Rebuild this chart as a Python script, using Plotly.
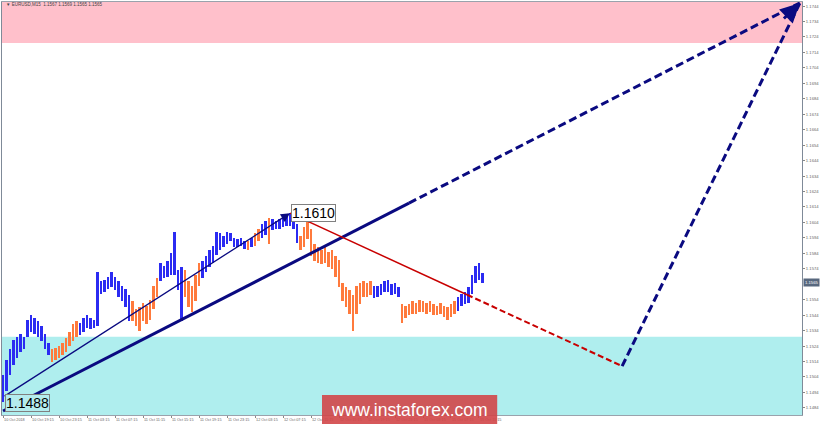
import numpy as np
import plotly.graph_objects as go

# ---------------- data ----------------
# 30-minute bar index (each tick label step = 8 bars = 4 hours)
bar_highs = [
    1.1505, 1.1515, 1.1522, 1.1528, 1.1530, 1.1532, 1.1530, 1.1541, 1.1544, 1.1542,
    1.1540, 1.1537, 1.1532, 1.1526, 1.1522, 1.1523, 1.1524, 1.1526, 1.1529, 1.1533,
    1.1538, 1.1540, 1.1539, 1.1542, 1.1544, 1.1542, 1.1541, 1.1572, 1.1566, 1.1567,
    1.1569, 1.1572, 1.1569, 1.1566, 1.1563, 1.1561, 1.1557, 1.1553, 1.1548, 1.1549,
    1.1552, 1.1550, 1.1554, 1.1563, 1.1568, 1.1578, 1.1576, 1.1579, 1.1584, 1.1598,
    1.1573, 1.1575, 1.1573, 1.1566, 1.1563, 1.1570, 1.1578, 1.1579, 1.1582, 1.1586,
    1.1589, 1.1598, 1.1597, 1.1595, 1.1598, 1.1597, 1.1594, 1.1593, 1.1594, 1.1592,
    1.1592, 1.1594, 1.1597, 1.1600, 1.1603, 1.1605, 1.1607, 1.1606, 1.1605, 1.1606,
    1.1607, 1.1608, 1.1610, 1.1609, 1.1603, 1.1595, 1.1601, 1.1605, 1.1600, 1.1590,
    1.1588, 1.1586, 1.1588, 1.1585, 1.1586, 1.1582, 1.1580, 1.1565, 1.1562, 1.1560,
    1.1557, 1.1563, 1.1565, 1.1566, 1.1565, 1.1566, 1.1563, 1.1563, 1.1564, 1.1566,
    1.1567, 1.1564, 1.1565, 1.1562, 1.1551, 1.1550, 1.1551, 1.1553, 1.1552, 1.1554,
    1.1553, 1.1552, 1.1553, 1.1551, 1.1550, 1.1552, 1.1550, 1.1549, 1.1551, 1.1553,
    1.1556, 1.1558, 1.1559, 1.1562, 1.1570, 1.1576, 1.1578, 1.1571,
]
bar_lows = [
    1.1488, 1.1495, 1.1505, 1.1512, 1.1516, 1.1520, 1.1522, 1.1530, 1.1533, 1.1532,
    1.1530, 1.1527, 1.1522, 1.1518, 1.1514, 1.1515, 1.1516, 1.1518, 1.1520, 1.1524,
    1.1527, 1.1530, 1.1531, 1.1533, 1.1536, 1.1535, 1.1536, 1.1537, 1.1558, 1.1559,
    1.1561, 1.1562, 1.1560, 1.1556, 1.1553, 1.1549, 1.1540, 1.1540, 1.1537, 1.1534,
    1.1540, 1.1538, 1.1541, 1.1548, 1.1556, 1.1566, 1.1568, 1.1569, 1.1570, 1.1570,
    1.1560, 1.1540, 1.1556, 1.1549, 1.1546, 1.1553, 1.1563, 1.1568, 1.1572, 1.1575,
    1.1578, 1.1583, 1.1586, 1.1588, 1.1590, 1.1592, 1.1588, 1.1588, 1.1589, 1.1587,
    1.1586, 1.1588, 1.1589, 1.1592, 1.1594, 1.1596, 1.1590, 1.1599, 1.1600, 1.1600,
    1.1601, 1.1602, 1.1602, 1.1600, 1.1591, 1.1586, 1.1588, 1.1593, 1.1582, 1.1579,
    1.1578, 1.1577, 1.1578, 1.1575, 1.1574, 1.1569, 1.1562, 1.1553, 1.1549, 1.1545,
    1.1534, 1.1545, 1.1551, 1.1556, 1.1556, 1.1557, 1.1555, 1.1556, 1.1557, 1.1559,
    1.1559, 1.1557, 1.1558, 1.1556, 1.1539, 1.1542, 1.1544, 1.1545, 1.1545, 1.1546,
    1.1546, 1.1545, 1.1546, 1.1544, 1.1544, 1.1545, 1.1543, 1.1541, 1.1543, 1.1545,
    1.1547, 1.1550, 1.1551, 1.1552, 1.1558, 1.1565, 1.1567, 1.1565,
]
wave_starts = [0, 14, 22, 37, 45, 52, 57, 70, 71, 72, 74, 76, 77, 85, 106, 114, 130]
wave_dirs = ["up", "down", "up", "down", "up", "down", "up", "down", "up",
             "down", "up", "down", "up", "down", "up", "down", "up"]

time_labels = ["10 Oct 2018", "10 Oct 19:15", "10 Oct 23:15", "11 Oct 03:15",
               "11 Oct 07:15", "11 Oct 11:15", "11 Oct 15:15", "11 Oct 19:15",
               "11 Oct 23:15", "12 Oct 03:15", "12 Oct 07:15", "12 Oct 11:15",
               "12 Oct 15:15", "12 Oct 19:15", "12 Oct 23:15", "15 Oct 03:15",
               "15 Oct 07:15", "15 Oct 11:15"]
label_step = 8
price_ticks = [1.1484, 1.1494, 1.1504, 1.1514, 1.1524, 1.1534, 1.1544, 1.1554,
               1.1574, 1.1584, 1.1594, 1.1604, 1.1614, 1.1624, 1.1634, 1.1644,
               1.1654, 1.1664, 1.1674, 1.1684, 1.1694, 1.1704, 1.1714, 1.1724,
               1.1734, 1.1744]

# wave markup (bar index, price)
trend_t = [0, 227.7]
trend_p = [1.1482, 1.1746]
trend_solid_end = 116
impulse_t = [0, 82]
impulse_p = [1.1491, 1.1610]
corr_t = [82, 176.9]
corr_p = [1.1610, 1.1511]
corr_solid_end = 132.6
final_t = [176.9, 227.7]
final_p = [1.1511, 1.1746]

resistance_zone = [1.1720, 1.1760]
support_zone = [1.1470, 1.1530]
last_price = 1.1565
header_text = "▼ EURUSD,M15  1.1567 1.1569 1.1565 1.1565"
high_label = "1.1610"
low_label = "1.1488"
watermark = "www.instaforex.com"

# ---------------- figure ----------------
NAVY = "#0a0a80"
n_bars = len(bar_highs)
idx = np.arange(n_bars)
wave = []
for i in range(n_bars):
    k = max(j for j, s in enumerate(wave_starts) if s <= i)
    wave.append(wave_dirs[k])
wave = np.array(wave)
highs = np.array(bar_highs)
lows = np.array(bar_lows)

fig = go.Figure()
for d, col in (("up", "#2b2bf2"), ("down", "#ff7a3c")):
    m = wave == d
    fig.add_trace(go.Bar(x=idx[m], base=lows[m], y=highs[m] - lows[m],
                         width=0.75, marker=dict(color=col, line=dict(width=0)),
                         showlegend=False, hoverinfo="skip"))


def seg(t, p, t0, t1):
    tt = [t0, t1]
    return tt, list(np.interp(tt, t, p))


# main trend line: solid then dashed
x, y = seg(trend_t, trend_p, trend_t[0], trend_solid_end)
fig.add_trace(go.Scatter(x=x, y=y, mode="lines", line=dict(color=NAVY, width=3),
                         showlegend=False, hoverinfo="skip"))
x, y = seg(trend_t, trend_p, trend_solid_end, trend_t[1])
fig.add_trace(go.Scatter(x=x, y=y, mode="lines",
                         line=dict(color=NAVY, width=3, dash="8px,4px"),
                         showlegend=False, hoverinfo="skip"))
# correction line
x, y = seg(corr_t, corr_p, corr_t[0], corr_solid_end)
fig.add_trace(go.Scatter(x=x, y=y, mode="lines", line=dict(color="#c80000", width=1.5),
                         showlegend=False, hoverinfo="skip"))
x, y = seg(corr_t, corr_p, corr_solid_end, corr_t[1])
fig.add_trace(go.Scatter(x=x, y=y, mode="lines",
                         line=dict(color="#c80000", width=2, dash="6px,3px"),
                         showlegend=False, hoverinfo="skip"))
# final up leg
fig.add_trace(go.Scatter(x=final_t, y=final_p, mode="lines",
                         line=dict(color=NAVY, width=3, dash="8px,4px"),
                         showlegend=False, hoverinfo="skip"))

annotations = []
# impulse arrow
annotations.append(dict(x=impulse_t[1], y=impulse_p[1], ax=impulse_t[0], ay=impulse_p[0],
                        xref="x", yref="y", axref="x", ayref="y", text="",
                        showarrow=True, arrowhead=2, arrowsize=1.4, arrowwidth=1.3,
                        arrowcolor=NAVY, standoff=0))
# top arrowhead
tail_t = (np.interp(trend_t[1] - 7, trend_t, trend_p) + np.interp(final_t[1] - 3, final_t, final_p)) / 2
annotations.append(dict(x=final_t[1], y=final_p[1], ax=final_t[1] - 5, ay=tail_t,
                        xref="x", yref="y", axref="x", ayref="y", text="",
                        showarrow=True, arrowhead=2, arrowsize=1.3, arrowwidth=3,
                        arrowcolor=NAVY, standoff=0))
# price labels
annotations.append(dict(x=impulse_t[1] + 0.3, y=impulse_p[1], xref="x", yref="y",
                        text=high_label, showarrow=False, xanchor="left", yanchor="middle",
                        font=dict(family="Liberation Sans", size=14, color="#000"),
                        bgcolor="white", bordercolor="#808080", borderwidth=1, borderpad=0))
annotations.append(dict(x=0.6, y=1.14873, xref="x", yref="y",
                        text=low_label, showarrow=False, xanchor="left", yanchor="middle",
                        font=dict(family="Liberation Sans", size=14, color="#000"),
                        bgcolor="#b4ecee", bordercolor="#808080", borderwidth=1, borderpad=0))
# current price tag
annotations.append(dict(x=1.0, y=last_price, xref="paper", yref="y", xshift=1,
                        text=f"{last_price:.4f}", showarrow=False, xanchor="left",
                        yanchor="middle", font=dict(family="Liberation Sans", size=4.2, color="white"),
                        bgcolor="#58687e", borderpad=1))
# header
annotations.append(dict(x=0.002, y=0.995, xref="paper", yref="paper", text=header_text,
                        showarrow=False, xanchor="left", yanchor="middle",
                        font=dict(family="Liberation Sans", size=4.5, color="#444")))
# watermark
annotations.append(dict(x=0.509, y=0.0133, xref="paper", yref="paper", text=watermark,
                        showarrow=False, xanchor="center", yanchor="middle",
                        font=dict(family="Liberation Sans", size=17.5, color="white")))
fig.update_layout(annotations=annotations)

shapes = [
    dict(type="rect", xref="paper", yref="y", x0=0, x1=1,
         y0=resistance_zone[0], y1=resistance_zone[1],
         fillcolor="#ffc0cb", line=dict(width=0), layer="below"),
    dict(type="rect", xref="paper", yref="y", x0=0, x1=1,
         y0=support_zone[0], y1=support_zone[1],
         fillcolor="#afeeee", line=dict(width=0), layer="below"),
    dict(type="rect", xref="paper", yref="paper", x0=0.4, x1=0.619, y0=-0.0218, y1=0.0484,
         fillcolor="rgba(210,70,72,0.9)", line=dict(width=0), layer="above"),
]
fig.update_layout(shapes=shapes)

fig.update_layout(
    width=820, height=426,
    margin=dict(l=2, r=18, t=2, b=11, autoexpand=False),
    paper_bgcolor="white", plot_bgcolor="white",
    barmode="overlay", bargap=0,
    xaxis=dict(range=[-0.3, 228.3], tickvals=[i * label_step for i in range(len(time_labels))],
               ticktext=time_labels, ticks="outside", ticklen=2, tickcolor="#888",
               ticklabelposition="outside right", tickangle=0, automargin=False,
               tickfont=dict(family="Liberation Sans", size=3.8, color="#666"),
               showgrid=False, zeroline=False, showline=True, linecolor="#9aa2ac",
               linewidth=1, mirror=True, fixedrange=True),
    yaxis=dict(range=[1.14794, 1.17466], side="right", tickvals=price_ticks,
               tickformat=".4f", ticks="outside", ticklen=2, tickcolor="#888",
               automargin=False,
               tickfont=dict(family="Liberation Sans", size=4.2, color="#666"),
               showgrid=False, zeroline=False, showline=True, linecolor="#7f8a98",
               linewidth=1, mirror=True, fixedrange=True),
)

fig.write_html("out.html", config={"displayModeBar": False, "staticPlot": True},
               post_script="document.body.style.margin='0px';document.body.style.padding='0px';")
